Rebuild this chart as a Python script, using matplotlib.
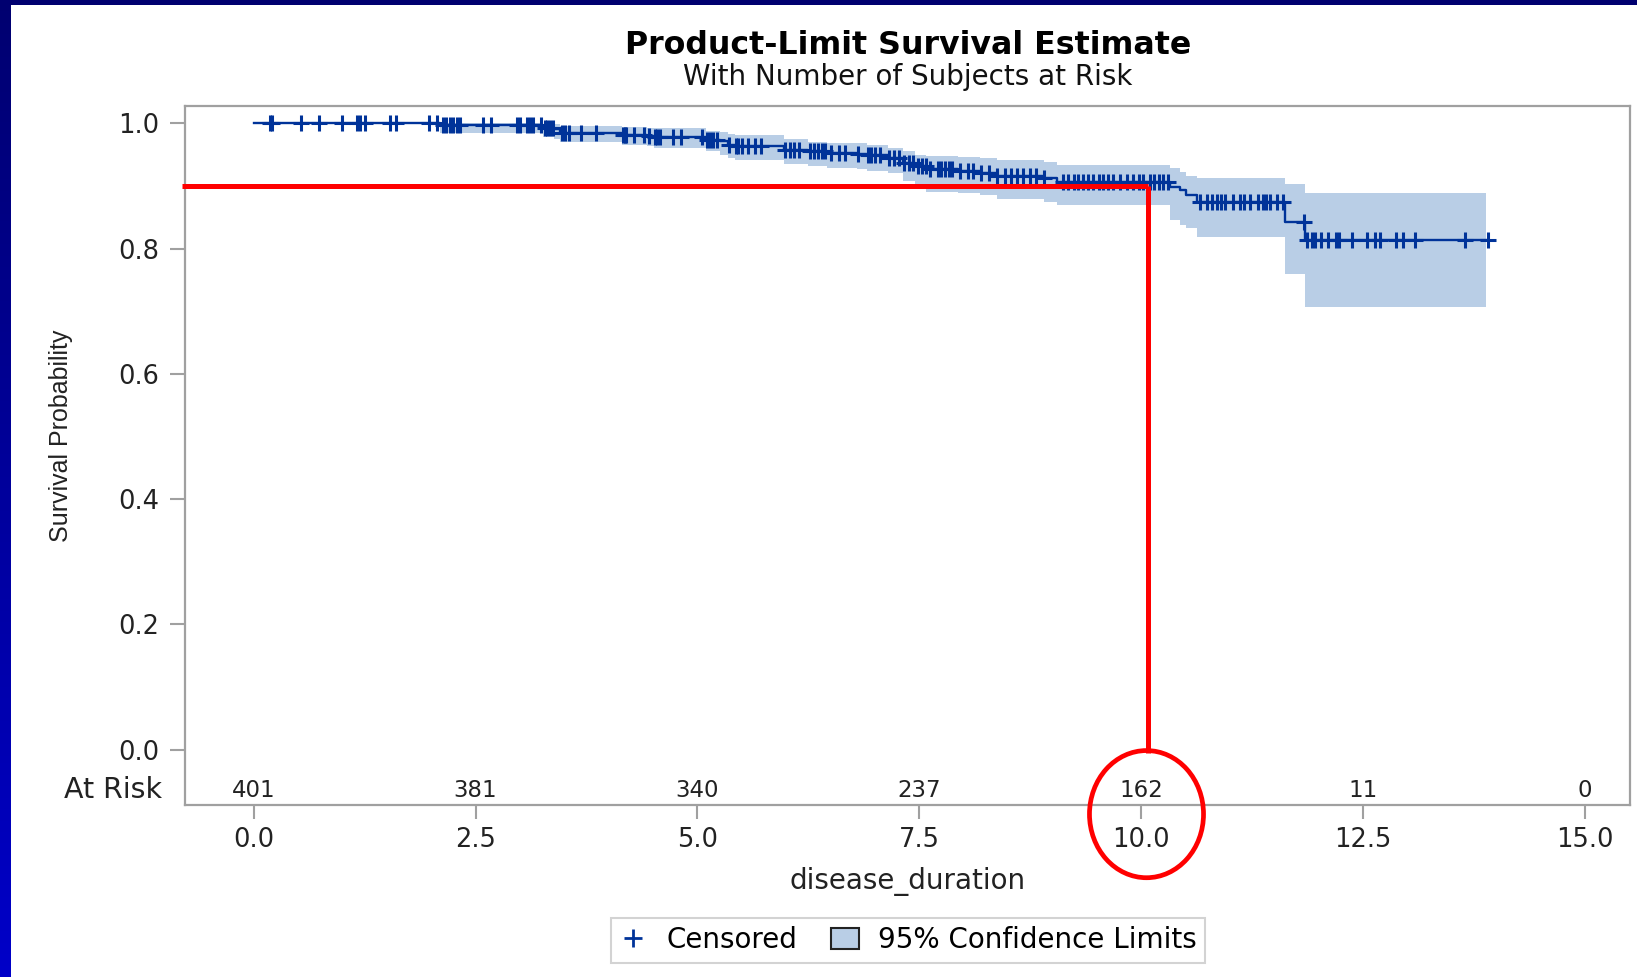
import matplotlib
matplotlib.use("Agg")
import matplotlib.pyplot as plt
import numpy as np
from matplotlib.lines import Line2D
from matplotlib.patches import Patch, Rectangle, Ellipse
from matplotlib.colors import LinearSegmentedColormap

# Kaplan-Meier steps
event_times = [0.0, 2.10, 3.26, 3.38, 3.45, 4.15, 4.43, 4.51, 5.10, 5.25, 5.35,
               5.42, 5.97, 6.25, 6.46, 6.80, 6.91, 7.15, 7.32, 7.45, 7.58, 7.94,
               8.18, 8.37, 8.90, 9.05, 10.33, 10.44, 10.51, 10.63, 11.62, 11.85]
surv = [1.0, 0.9975, 0.993, 0.990, 0.985, 0.982, 0.980, 0.978, 0.974, 0.971, 0.966,
        0.963, 0.958, 0.955, 0.953, 0.951, 0.949, 0.944, 0.937, 0.931, 0.927, 0.923,
        0.920, 0.916, 0.912, 0.906, 0.898, 0.893, 0.885, 0.874, 0.843, 0.814]
ci_lower = [1.0, 0.985, 0.978, 0.975, 0.970, 0.965, 0.963, 0.961, 0.955, 0.950, 0.945,
            0.941, 0.935, 0.931, 0.929, 0.927, 0.924, 0.920, 0.907, 0.899, 0.891, 0.888,
            0.885, 0.879, 0.874, 0.869, 0.845, 0.838, 0.832, 0.819, 0.760, 0.707]
ci_upper = [1.0, 1.0, 0.999, 0.998, 0.996, 0.994, 0.993, 0.992, 0.988, 0.986, 0.983,
            0.981, 0.975, 0.970, 0.969, 0.968, 0.966, 0.961, 0.955, 0.950, 0.947, 0.946,
            0.944, 0.941, 0.938, 0.933, 0.928, 0.922, 0.915, 0.912, 0.903, 0.888]
line_end = 13.91
band_end = 13.89

censor_times = [0.18, 0.21, 0.53, 0.74, 0.99, 1.16, 1.20, 1.25, 1.54, 1.60, 1.98, 2.06,
                2.13, 2.17, 2.21, 2.25, 2.29, 2.33, 2.58, 2.67, 2.97, 3.00, 3.08, 3.11,
                3.15, 3.24, 3.28, 3.31, 3.34, 3.37, 3.47, 3.51, 3.55, 3.69, 3.86, 4.16,
                4.18, 4.20, 4.28, 4.40, 4.45, 4.52, 4.55, 4.58, 4.73, 4.82, 5.05, 5.11,
                5.14, 5.18, 5.22, 5.36, 5.43, 5.46, 5.50, 5.57, 5.65, 5.72, 5.99, 6.04,
                6.09, 6.14, 6.27, 6.31, 6.36, 6.40, 6.44, 6.51, 6.59, 6.66, 6.81, 6.92,
                6.96, 7.00, 7.06, 7.16, 7.22, 7.27, 7.33, 7.38, 7.43, 7.48, 7.53, 7.57,
                7.62, 7.71, 7.75, 7.79, 7.83, 7.87, 7.96, 8.05, 8.11, 8.20, 8.28, 8.38,
                8.46, 8.53, 8.60, 8.67, 8.75, 8.82, 8.91, 9.12, 9.18, 9.24, 9.29, 9.35,
                9.40, 9.46, 9.52, 9.57, 9.63, 9.68, 9.76, 9.84, 9.91, 9.97, 10.02, 10.10,
                10.15, 10.20, 10.25, 10.30, 10.66, 10.74, 10.80, 10.85, 10.90, 10.95,
                11.04, 11.11, 11.16, 11.23, 11.32, 11.37, 11.41, 11.45, 11.53, 11.60,
                11.84, 11.87, 11.93, 11.96, 12.03, 12.11, 12.20, 12.23, 12.37, 12.55,
                12.64, 12.69, 12.87, 12.95, 13.09, 13.65, 13.91]

risk_times = [0.0, 2.5, 5.0, 7.5, 10.0, 12.5, 15.0]
at_risk = [401, 381, 340, 237, 162, 11, 0]

# the highlighted reading (red guide lines)
cut_time = 10.08
cut_surv = 0.90

blue = "#003399"
band_color = "#b9cee6"
grey = "#a0a0a0"

W, H = 1637, 977
fig = plt.figure(figsize=(W / 100, H / 100), dpi=100)
ax = fig.add_axes([185 / W, 1 - 805 / H, (1630 - 185) / W, (805 - 106) / H])

# confidence band
band_x = np.append(event_times[1:], band_end)
ax.fill_between(band_x, np.append(ci_lower[1:], ci_lower[-1]),
                np.append(ci_upper[1:], ci_upper[-1]),
                step="post", color=band_color, lw=0, zorder=1)

# survival step line
step_x = np.append(event_times, line_end)
step_y = np.append(surv, surv[-1])
ax.step(step_x, step_y, where="post", color=blue, lw=1.7, zorder=3)

# censored marks
idx = np.searchsorted(event_times, censor_times, side="right") - 1
ax.plot(censor_times, np.array(surv)[idx], ls="none", marker="+", ms=11,
        mew=2.2, color=blue, zorder=4)

ax.set_xlim(-0.774, 15.508)
ax.set_ylim(-0.0884, 1.0275)
ax.set_xticks(risk_times)
ax.set_xticklabels([f"{t:.1f}" for t in risk_times])
yt = [0.0, 0.2, 0.4, 0.6, 0.8, 1.0]
ax.set_yticks(yt)
ax.set_yticklabels([f"{v:.1f}" for v in yt])
ax.tick_params(axis="y", direction="out", length=10.5, width=1.5, color=grey,
               pad=8, labelsize=18.5, labelcolor="#222222")
ax.tick_params(axis="x", direction="out", length=10, width=1.5, color=grey,
               pad=6, labelsize=18.5, labelcolor="#222222")
for sp in ax.spines.values():
    sp.set_color(grey)
    sp.set_linewidth(1.6)

# at-risk row
for t, n in zip(risk_times, at_risk):
    ax.text(t, -0.065, str(n), ha="center", va="center", fontsize=16.5, color="#222222")
ax.text(-1.03, -0.065, "At Risk", ha="right", va="center", fontsize=20.5,
        color="#222222", clip_on=False)

# red guide lines and circle
ax.plot([-0.81, cut_time], [cut_surv, cut_surv], color="red", lw=3.6,
        solid_capstyle="butt", clip_on=False, zorder=5)
ax.plot([cut_time, cut_time], [cut_surv, -0.005], color="red", lw=3.6,
        solid_capstyle="butt", clip_on=False, zorder=5)
ax.add_patch(Ellipse((cut_time - 0.02, -0.103), 1.285, 0.203, fill=False,
                     ec="red", lw=3.4, clip_on=False, zorder=5))

# titles and labels
cx = 908 / W
fig.text(cx, 1 - 45 / H, "Product-Limit Survival Estimate", ha="center", va="center",
         fontsize=22.8, fontweight="bold", color="black")
fig.text(cx, 1 - 77 / H, "With Number of Subjects at Risk", ha="center", va="center",
         fontsize=20, color="#111111")
fig.text(cx, 1 - 881 / H, "disease_duration", ha="center", va="center",
         fontsize=20, color="#222222")
fig.text(61 / W, 1 - 436 / H, "Survival Probability", rotation=90, ha="center",
         va="center", fontsize=18, family="Liberation Sans", color="#222222")

# legend
handles = [Line2D([], [], ls="none", marker="+", ms=13, mew=2, color=blue),
           Patch(facecolor=band_color, edgecolor="#222222", lw=1.5)]
leg = fig.legend(handles, ["Censored", "95% Confidence Limits"], loc="center",
                 bbox_to_anchor=(cx, 1 - 940.5 / H), ncol=2, fontsize=20,
                 frameon=True, fancybox=False, edgecolor="#c8c8c8",
                 handlelength=1.0, handleheight=0.8, handletextpad=0.7,
                 columnspacing=1.2, borderpad=0.3)
leg.get_frame().set_linewidth(1.5)

# slide border: dark navy on top, blue strip on the left getting brighter downwards
slide = LinearSegmentedColormap.from_list("slide", ["#000070", "#0000c8"])
strip = fig.add_axes([0, 0, 11 / W, 1])
strip.imshow(np.linspace(0, 1, 256).reshape(-1, 1), aspect="auto", cmap=slide)
strip.set_axis_off()
fig.add_artist(Rectangle((0, 1 - 5 / H), 1, 5 / H, transform=fig.transFigure,
                         color="#000070", lw=0))

fig.savefig("out.png", dpi=100)
